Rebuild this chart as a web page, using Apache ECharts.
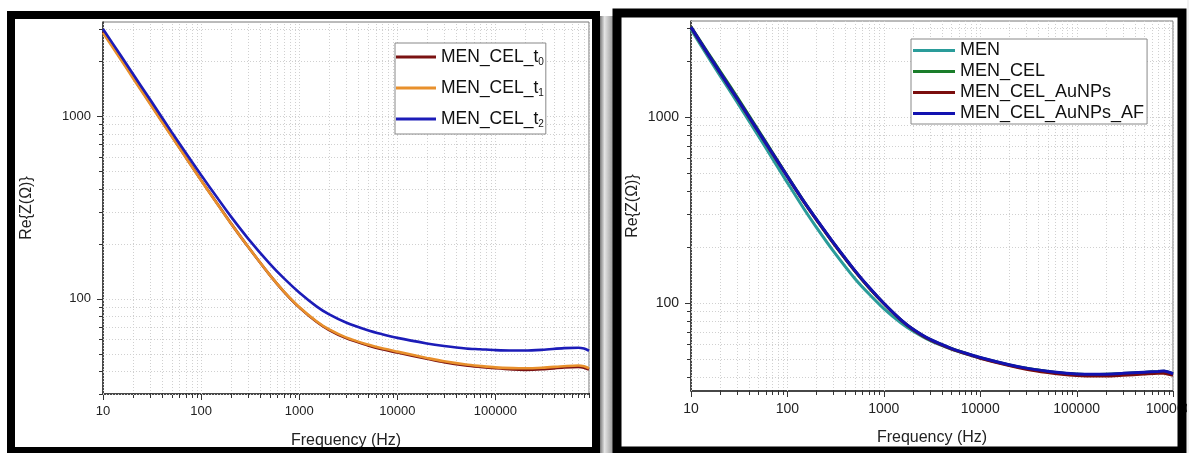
<!DOCTYPE html>
<html><head><meta charset="utf-8">
<script src="https://cdn.jsdelivr.net/npm/echarts@6/dist/echarts.min.js"></script>
<style>html,body{margin:0;padding:0;background:#fff;}#c{width:1189px;height:453px;}</style>
</head><body><div id="c"></div>
<script>
// ---------- data ----------
const freqL = [10,15,20,30,50,70,100,150,200,300,500,700,1000,1500,2000,3000,5000,7000,10000,20000,30000,50000,70000,100000,150000,200000,300000,500000,700000,800000,900000];
const menCelT0 = [2909,2091,1651,1184,780,594,446,325,260,192.8,134.8,108.9,89.5,74.6,67.4,60.7,55.4,52.8,50.6,46.8,44.8,43,42.2,41.5,40.9,40.7,41,41.9,42.2,41.8,40.8];
const menCelT1 = [2860,2060,1630,1172,775,591,444,324,259.5,192.8,135,109.3,90,75.2,68,61.3,56,53.4,51.2,47.3,45.3,43.5,42.7,42,41.6,41.5,41.8,42.6,43,42.6,41.5];
const menCelT2 = [3004,2168,1718,1240,820,628,476,350,283,214,155.5,129,108,90.7,82.2,74,67.1,63.8,60.9,56.8,55,53.3,52.8,52.2,51.9,51.9,52.4,53.5,53.8,53.2,51.8];

const freqR = [10,15,20,30,50,70,100,150,200,300,500,700,1000,1500,2000,3000,5000,7000,10000,20000,30000,50000,70000,100000,150000,200000,300000,500000,700000,800000,1000000];
const men = [2950,2109,1669,1204,790,597,443,318,255,190,135.4,111.9,93.1,78.1,70.6,62.8,56.4,53.4,50.6,46.3,44.4,42.7,41.9,41.3,41.1,41.2,41.6,42.2,42.6,42.8,41.4];
const menCel = [3050,2215,1765,1282,848,644,481,348,281,210,148.8,121,99.2,81.1,72.2,63.6,56.9,53.7,50.8,46.4,44.5,42.8,42,41.4,41.2,41.3,41.7,42.3,42.7,42.9,41.5];
const menCelAu = [3030,2175,1728,1256,832,635,477,346,280,209.5,148.6,121,99.2,81,72,63.4,56.6,53.4,50.4,46,44,42.2,41.3,40.7,40.4,40.4,40.8,41.5,41.9,41.8,40.8];
const menCelAuAf = [3040,2183,1735,1261,836,638,479,348,282,211,149.6,121.6,99.6,81.4,72.4,63.8,57,53.8,50.9,46.5,44.6,42.9,42.1,41.5,41.3,41.4,41.8,42.4,42.8,43,41.6];

const namesL = ['MEN_CEL_t0','MEN_CEL_t1','MEN_CEL_t2'];
const namesR = ['MEN','MEN_CEL','MEN_CEL_AuNPs','MEN_CEL_AuNPs_AF'];
const xTickLabels = ['10','100','1000','10000','100000','1000000'];
const yTickLabels = ['100','1000'];

// axis limits
const extL = {xMin:10, xMax:900000, yMin:30, yMax:3280};
const extR = {xMin:10, xMax:1000000, yMin:33.6, yMax:3280};

const FONT = "'Liberation Sans', Arial, sans-serif";

function logTicks(min, max) {
  const out = [];
  for (let e = -1; e <= 7; e++) {
    for (let m = 1; m <= 9; m++) {
      const v = m * Math.pow(10, e);
      if (v >= min * 0.9999 && v <= max * 1.0001) out.push([v, m === 1 ? 1 : 0]);
    }
  }
  return out;
}
function labelFmt(v) {
  const s = String(Math.round(v));
  return xTickLabels.indexOf(s) >= 0 || yTickLabels.indexOf(s) >= 0 ? s : '';
}
function snap(p) { return Math.round(p) + 0.5; }

function xTickSeries(gi, ext) {
  return {
    type: 'custom', xAxisIndex: gi, yAxisIndex: gi, silent: true, z: 1,
    encode: {x: 0, y: 1},
    data: logTicks(ext.xMin, ext.xMax).map(t => [t[0], ext.yMin, t[1]]),
    renderItem: function (params, api) {
      const v = api.value(0), major = api.value(2);
      const b = api.coord([v, ext.yMin]), t = api.coord([v, ext.yMax]);
      const x = snap(b[0]);
      const len = major ? 6 : 4;
      return {type: 'group', children: [
        {type: 'line', shape: {x1: x, y1: b[1], x2: x, y2: t[1]}, style: {stroke: '#d0d0d0', lineWidth: 1, lineDash: [1, 2]}},
        {type: 'line', shape: {x1: x, y1: b[1] - (major ? 0 : 1), x2: x, y2: b[1] + len}, style: {stroke: '#333', lineWidth: 1}}
      ]};
    }
  };
}
function yTickSeries(gi, ext) {
  return {
    type: 'custom', xAxisIndex: gi, yAxisIndex: gi, silent: true, z: 1,
    encode: {x: 0, y: 1},
    data: logTicks(ext.yMin, ext.yMax).map(t => [ext.xMin, t[0], t[1]]),
    renderItem: function (params, api) {
      const v = api.value(1), major = api.value(2);
      const l = api.coord([ext.xMin, v]), r = api.coord([ext.xMax, v]);
      const y = snap(l[1]);
      const len = major ? 6 : 4;
      return {type: 'group', children: [
        {type: 'line', shape: {x1: l[0], y1: y, x2: r[0], y2: y}, style: {stroke: '#d0d0d0', lineWidth: 1, lineDash: [1, 2]}},
        {type: 'line', shape: {x1: l[0] - len, y1: y, x2: l[0], y2: y}, style: {stroke: '#333', lineWidth: 1}}
      ]};
    }
  };
}
function lineSeries(name, gi, xs, ys, color, w) {
  return {
    name: name, type: 'line', xAxisIndex: gi, yAxisIndex: gi,
    data: xs.map((x, i) => [x, ys[i]]),
    smooth: 0.3, symbol: 'none', showSymbol: false, z: 3,
    lineStyle: {color: color, width: w}, itemStyle: {color: color}
  };
}
function xAxisCfg(gi, ext, fs, gap) {
  return {
    gridIndex: gi, type: 'log', logBase: 10, min: ext.xMin, max: ext.xMax,
    axisLine: {show: true, onZero: false, lineStyle: {color: '#222', width: 1.5}},
    axisTick: {show: false}, splitLine: {show: false}, minorTick: {show: false},
    axisLabel: {formatter: labelFmt, fontSize: fs, color: '#222', margin: 11, fontFamily: FONT},
    name: 'Frequency (Hz)', nameLocation: 'middle', nameGap: gap,
    nameTextStyle: {fontSize: 16, color: '#222', fontFamily: FONT}
  };
}
function yAxisCfg(gi, ext, fs, gap) {
  return {
    gridIndex: gi, type: 'log', logBase: 10, min: ext.yMin, max: ext.yMax,
    axisLine: {show: true, onZero: false, lineStyle: {color: '#222', width: 1.5}},
    axisTick: {show: false}, splitLine: {show: false}, minorTick: {show: false},
    axisLabel: {formatter: labelFmt, fontSize: fs, color: '#222', margin: 12, fontFamily: FONT},
    name: 'Re{Z(\u03A9)}', nameLocation: 'middle', nameGap: gap,
    nameTextStyle: {fontSize: 16, color: '#222', fontFamily: FONT}
  };
}

const chart = echarts.init(document.getElementById('c'), null, {renderer: 'canvas'});
const option = {
  backgroundColor: '#fff',
  animation: false,
  grid: [
    {left: 103, top: 22, width: 486, height: 372, show: true, borderColor: '#777', borderWidth: 1, backgroundColor: 'transparent', outerBoundsMode: 'none', containLabel: false},
    {left: 691, top: 21, width: 482, height: 370, show: true, borderColor: '#777', borderWidth: 1, backgroundColor: 'transparent', outerBoundsMode: 'none', containLabel: false}
  ],
  xAxis: [xAxisCfg(0, extL, 13, 39), xAxisCfg(1, extR, 14, 39)],
  yAxis: [yAxisCfg(0, extL, 13, 68), yAxisCfg(1, extR, 14, 50)],
  legend: [
    {
      data: namesL, orient: 'vertical', left: 395, top: 43,
      icon: 'rect', itemWidth: 40, itemHeight: 3, itemGap: 11, padding: [4, 2, 5, 1],
      borderColor: '#888', borderWidth: 1, backgroundColor: '#fff', selectedMode: false,
      formatter: n => n.replace(/t(\d)$/, 't{s|$1}'),
      textStyle: {fontSize: 17.5, lineHeight: 20, color: '#111', fontFamily: FONT,
        rich: {s: {fontSize: 10, lineHeight: 20, verticalAlign: 'bottom', color: '#111', fontFamily: FONT}}}
    },
    {
      data: namesR, orient: 'vertical', left: 911, top: 39,
      icon: 'rect', itemWidth: 42, itemHeight: 3, itemGap: 0, padding: [1, 3, 0, 2],
      borderColor: '#888', borderWidth: 1, backgroundColor: '#fff', selectedMode: false,
      textStyle: {fontSize: 18, lineHeight: 21, color: '#111', fontFamily: FONT}
    }
  ],
  series: [
    xTickSeries(0, extL), yTickSeries(0, extL),
    xTickSeries(1, extR), yTickSeries(1, extR),
    lineSeries(namesL[0], 0, freqL, menCelT0, '#7b1212', 2.6),
    lineSeries(namesL[1], 0, freqL, menCelT1, '#e8902c', 2.6),
    lineSeries(namesL[2], 0, freqL, menCelT2, '#1c1cb8', 2.6),
    lineSeries(namesR[0], 1, freqR, men, '#2a9c9a', 3),
    lineSeries(namesR[1], 1, freqR, menCel, '#1a7d2a', 3),
    lineSeries(namesR[2], 1, freqR, menCelAu, '#7a0d0d', 3),
    lineSeries(namesR[3], 1, freqR, menCelAuAf, '#1212b0', 3)
  ],
  graphic: [
    {type: 'rect', z: 99, silent: true, shape: {x: 600, y: 16, width: 13, height: 437},
      style: {fill: new echarts.graphic.LinearGradient(0, 0, 1, 0, [
        {offset: 0, color: '#7a7a7a'}, {offset: 0.35, color: '#e4e4e4'}, {offset: 1, color: '#9a9a9a'}])}},
    {type: 'rect', z: 100, silent: true, shape: {x: 11, y: 15, width: 585, height: 436},
      style: {fill: 'none', stroke: '#000', lineWidth: 8}},
    {type: 'rect', z: 100, silent: true, shape: {x: 617, y: 13, width: 565, height: 438},
      style: {fill: 'none', stroke: '#000', lineWidth: 9}},
    {type: 'rect', z: 101, silent: true, shape: {x: 1187, y: 0, width: 2, height: 453},
      style: {fill: '#f2f2f2'}}
  ]
};
chart.setOption(option);
</script>
</body></html>
